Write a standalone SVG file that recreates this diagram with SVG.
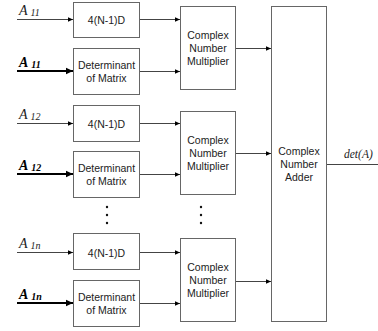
<svg xmlns="http://www.w3.org/2000/svg" width="378" height="331" viewBox="0 0 378 331">
<defs>
<marker id="ah" markerWidth="6" markerHeight="6" refX="5" refY="3" orient="auto" markerUnits="userSpaceOnUse">
<path d="M0,0.8 L5,3 L0,5.2 Z" fill="#000"/>
</marker>
<marker id="ahb" markerWidth="8" markerHeight="8" refX="7" refY="4" orient="auto" markerUnits="userSpaceOnUse">
<path d="M0,0.8 L7,4 L0,7.2 Z" fill="#000"/>
</marker>
<style>
.box{fill:#fff;stroke:#666;stroke-width:1}
.ln{stroke:#444;stroke-width:1;fill:none}
.bl{stroke:#000;stroke-width:2;fill:none}
.t{font-family:"Liberation Sans",Arial,sans-serif;font-size:10.5px;fill:#222;text-anchor:middle}
.m{font-family:"Liberation Sans",Arial,sans-serif;font-size:10.5px;fill:#222;text-anchor:middle}
.lab{font-family:"Liberation Serif","Times New Roman",serif;font-style:italic;font-size:14px;fill:#222}
.sub{font-size:10px}
.lbb{font-family:"Liberation Serif","Times New Roman",serif;font-style:italic;font-weight:bold;font-size:14px;fill:#000}
.out{font-family:"Liberation Serif","Times New Roman",serif;font-style:italic;font-size:11.5px;fill:#222}
.dot{fill:#111}
</style>
</defs>
<rect width="378" height="331" fill="#fff"/>

<g id="connectors">
<line class="ln" x1="17" y1="19.5" x2="73" y2="19.5" marker-end="url(#ah)"/>
<line class="bl" x1="17" y1="71" x2="73" y2="71" marker-end="url(#ahb)"/>
<line class="ln" x1="140" y1="19.5" x2="180" y2="19.5" marker-end="url(#ah)"/>
<line class="ln" x1="140" y1="71.5" x2="180" y2="71.5" marker-end="url(#ah)"/>
<line class="ln" x1="236" y1="48.5" x2="271" y2="48.5" marker-end="url(#ah)"/>

<line class="ln" x1="17" y1="123.5" x2="73" y2="123.5" marker-end="url(#ah)"/>
<line class="bl" x1="17" y1="174" x2="73" y2="174" marker-end="url(#ahb)"/>
<line class="ln" x1="140" y1="123.5" x2="180" y2="123.5" marker-end="url(#ah)"/>
<line class="ln" x1="140" y1="174.5" x2="180" y2="174.5" marker-end="url(#ah)"/>
<line class="ln" x1="236" y1="153.5" x2="271" y2="153.5" marker-end="url(#ah)"/>

<line class="ln" x1="17" y1="252.5" x2="73" y2="252.5" marker-end="url(#ah)"/>
<line class="bl" x1="17" y1="303" x2="73" y2="303" marker-end="url(#ahb)"/>
<line class="ln" x1="140" y1="252.5" x2="180" y2="252.5" marker-end="url(#ah)"/>
<line class="ln" x1="140" y1="303.5" x2="180" y2="303.5" marker-end="url(#ah)"/>
<line class="ln" x1="236" y1="281.5" x2="271" y2="281.5" marker-end="url(#ah)"/>

<line class="ln" x1="327" y1="164.5" x2="378" y2="164.5"/>
</g>

<g id="labels">
<text class="lab" x="19" y="15">A<tspan class="sub" dx="3" dy="1">11</tspan></text>
<text class="lbb" x="19" y="67">A<tspan class="sub" dx="3" dy="1">11</tspan></text>
<text class="lab" x="19" y="119">A<tspan class="sub" dx="3" dy="1">12</tspan></text>
<text class="lbb" x="19" y="170">A<tspan class="sub" dx="3" dy="1">12</tspan></text>
<text class="lab" x="19" y="248">A<tspan class="sub" dx="3" dy="1">1n</tspan></text>
<text class="lbb" x="19" y="299">A<tspan class="sub" dx="3" dy="1">1n</tspan></text>
<text class="out" x="344" y="158">det(A)</text>
</g>

<g id="delay1"><rect class="box" x="73.5" y="2.5" width="66" height="35"/><text class="t" x="106.5" y="24">4(N-1)D</text></g>
<g id="det1"><rect class="box" x="73.5" y="48.5" width="66" height="46"/><text class="t" x="106.5" y="69">Determinant</text><text class="t" x="106.5" y="82">of Matrix</text></g>
<g id="mult1"><rect class="box" x="180.5" y="6.5" width="55" height="83"/><text class="m" x="208" y="39">Complex</text><text class="m" x="208" y="52">Number</text><text class="m" x="208" y="65">Multiplier</text></g>

<g id="delay2"><rect class="box" x="73.5" y="105.5" width="66" height="36"/><text class="t" x="106.5" y="127.5">4(N-1)D</text></g>
<g id="det2"><rect class="box" x="73.5" y="151.5" width="66" height="46"/><text class="t" x="106.5" y="172">Determinant</text><text class="t" x="106.5" y="185">of Matrix</text></g>
<g id="mult2"><rect class="box" x="180.5" y="111.5" width="55" height="83"/><text class="m" x="208" y="144">Complex</text><text class="m" x="208" y="157">Number</text><text class="m" x="208" y="170">Multiplier</text></g>

<g id="delay3"><rect class="box" x="73.5" y="233.5" width="66" height="36"/><text class="t" x="106.5" y="256.5">4(N-1)D</text></g>
<g id="det3"><rect class="box" x="73.5" y="280.5" width="66" height="46"/><text class="t" x="106.5" y="301">Determinant</text><text class="t" x="106.5" y="314">of Matrix</text></g>
<g id="mult3"><rect class="box" x="180.5" y="238.5" width="55" height="83"/><text class="m" x="208" y="271">Complex</text><text class="m" x="208" y="284">Number</text><text class="m" x="208" y="297">Multiplier</text></g>

<g id="adder"><rect class="box" x="271.5" y="6.5" width="55" height="315"/><text class="m" x="299" y="155">Complex</text><text class="m" x="299" y="168">Number</text><text class="m" x="299" y="181">Adder</text></g>

<g id="dots">
<circle class="dot" cx="107" cy="207" r="1.2"/><circle class="dot" cx="107" cy="215" r="1.2"/><circle class="dot" cx="107" cy="223" r="1.2"/>
<circle class="dot" cx="201" cy="207" r="1.2"/><circle class="dot" cx="201" cy="215" r="1.2"/><circle class="dot" cx="201" cy="223" r="1.2"/>
</g>
</svg>
